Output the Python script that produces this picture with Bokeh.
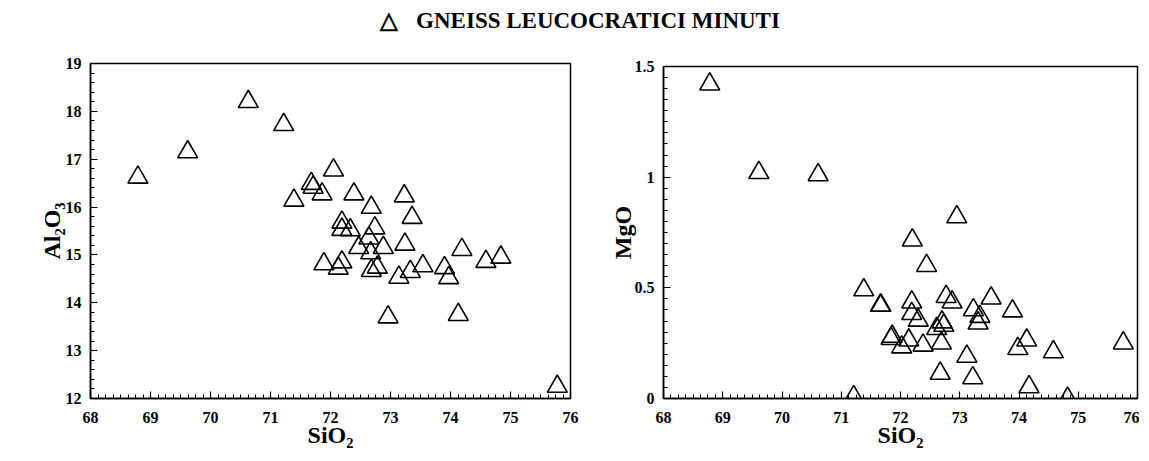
from bokeh.plotting import figure
from bokeh.layouts import column, row
from bokeh.models import Div, Spacer, SingleIntervalTicker, CustomJSTickFormatter
from bokeh.embed import file_html
from bokeh.resources import INLINE

title_text = "GNEISS LEUCOCRATICI MINUTI"

# Left panel: SiO2 vs Al2O3
sio2_a = [68.79, 69.62, 70.63, 71.22, 72.05, 71.68, 71.71, 71.39, 71.86, 72.39,
          73.23, 72.68, 73.36, 72.19, 72.19, 72.33, 72.74, 72.64, 72.47, 72.88,
          73.24, 72.67, 74.19, 71.89, 72.19, 72.13, 72.78, 72.68, 73.14, 73.33,
          73.54, 73.90, 73.97, 74.59, 74.84, 72.96, 74.13, 75.78]
al2o3 = [16.62, 17.15, 18.20, 17.72, 16.77, 16.49, 16.41, 16.14, 16.27, 16.27,
         16.23, 15.99, 15.78, 15.68, 15.53, 15.52, 15.56, 15.35, 15.15, 15.15,
         15.22, 15.04, 15.11, 14.81, 14.85, 14.72, 14.74, 14.67, 14.53, 14.65,
         14.77, 14.73, 14.52, 14.86, 14.95, 13.70, 13.75, 12.25]

# Right panel: SiO2 vs MgO
sio2_b = [68.78, 69.61, 70.61, 72.20, 72.95, 72.44, 71.38, 71.66, 71.67, 72.19,
          72.19, 72.30, 72.77, 72.87, 73.53, 73.23, 73.34, 73.31, 73.89, 72.70,
          72.73, 72.61, 71.86, 71.84, 72.14, 72.02, 72.38, 72.69, 74.13, 73.98,
          74.58, 75.76, 73.12, 72.67, 73.22, 74.17, 71.21, 74.82]
mgo = [1.42, 1.02, 1.01, 0.715, 0.82, 0.60, 0.49, 0.42, 0.42, 0.435,
       0.383, 0.353, 0.46, 0.435, 0.453, 0.40, 0.37, 0.34, 0.395, 0.345,
       0.33, 0.315, 0.28, 0.27, 0.263, 0.232, 0.24, 0.25, 0.263, 0.225,
       0.21, 0.25, 0.19, 0.113, 0.093, 0.052, 0.007, 0.0]

x_label = "SiO₂"
y_label_a = "Al₂O₃"
y_label_b = "MgO"

FONT = "Liberation Serif"


def style(p, y_interval, y_minor, y_label_standoff):
    p.outline_line_color = "black"
    p.outline_line_width = 1.5
    p.xgrid.visible = False
    p.ygrid.visible = False
    p.background_fill_color = "white"
    p.border_fill_color = "white"
    p.xaxis.ticker = SingleIntervalTicker(interval=1, num_minor_ticks=8)
    p.yaxis.ticker = SingleIntervalTicker(interval=y_interval, num_minor_ticks=y_minor)
    p.yaxis.formatter = CustomJSTickFormatter(code="return String(Math.round(tick*10)/10)")
    for ax in (p.xaxis[0], p.yaxis[0]):
        ax.axis_line_color = "black"
        ax.axis_line_width = 1.5
        ax.major_tick_in = 7
        ax.major_tick_out = 0
        ax.minor_tick_in = 4
        ax.minor_tick_out = 0
        ax.major_tick_line_color = "black"
        ax.minor_tick_line_color = "black"
        ax.major_tick_line_width = 1.2
        ax.minor_tick_line_width = 1
        ax.major_label_text_font = FONT
        ax.major_label_text_font_style = "bold"
        ax.major_label_text_font_size = "16px"
        ax.major_label_text_color = "black"
        ax.axis_label_text_font = FONT
        ax.axis_label_text_font_style = "bold"
        ax.axis_label_text_font_size = "24px"
        ax.axis_label_text_color = "black"
    p.xaxis.major_label_standoff = 13
    p.xaxis.axis_label_standoff = -4
    p.yaxis.major_label_standoff = 9
    p.yaxis.axis_label_standoff = y_label_standoff


p1 = figure(frame_width=480, frame_height=335, x_range=(68, 76), y_range=(12, 19),
            output_backend="svg", toolbar_location=None,
            min_border_left=90, min_border_right=10, min_border_top=20, min_border_bottom=58,
            x_axis_label=x_label, y_axis_label=y_label_a)
style(p1, 1, 5, -2)
p1.scatter(x=sio2_a, y=al2o3, marker="triangle", size=20, fill_color=None,
           line_color="black", line_width=1.6)

p2 = figure(frame_width=474, frame_height=332, x_range=(68, 76), y_range=(0, 1.5),
            output_backend="svg", toolbar_location=None,
            min_border_left=83, min_border_right=2, min_border_top=20, min_border_bottom=58,
            x_axis_label=x_label, y_axis_label=y_label_b)
style(p2, 0.5, 10, -4)
p2.scatter(x=sio2_b, y=mgo, marker="triangle", size=20, fill_color=None,
           line_color="black", line_width=1.6)

title = Div(text='<span style="margin-right:18px">△</span>' + title_text,
            width=1132, height=43, margin=(0, 0, 0, 0),
            styles={"text-align": "center", "font-family": FONT, "font-weight": "bold",
                    "font-size": "23px", "line-height": "26px", "color": "black",
                    "width": "1132px", "height": "43px", "overflow": "hidden",
                    "padding-left": "28px", "padding-top": "8px", "box-sizing": "border-box"})

right_col = column(Spacer(height=3, width=559, margin=(0, 0, 0, 0)), p2)
layout = column(title, row(p1, right_col))
open("out.html", "w").write(file_html(layout, INLINE))
